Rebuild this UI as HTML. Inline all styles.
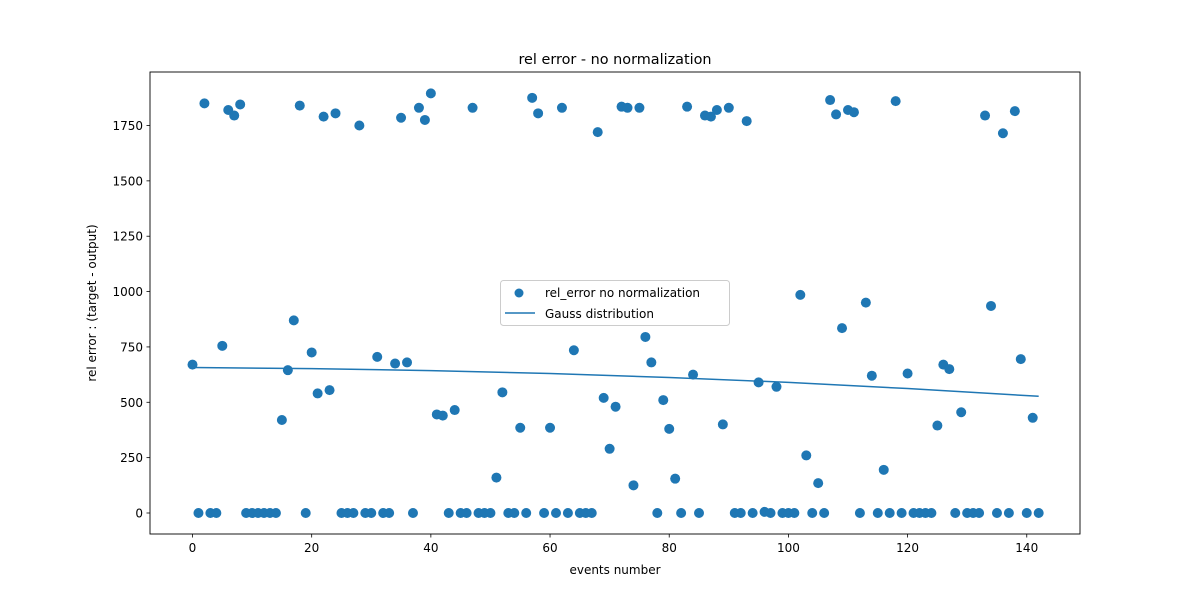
<!DOCTYPE html>
<html><head><meta charset="utf-8"><style>
body{margin:0;background:#fff;}
svg{display:block;font-family:"DejaVu Sans","Liberation Sans",sans-serif;}
</style></head><body>
<svg id="chart" width="1200" height="600">
<rect x="0" y="0" width="1200" height="600" fill="#fff"/>
<text x="615" y="64" font-size="14.4" text-anchor="middle">rel error - no normalization</text>
<g id="plot"></g>
<rect x="150" y="72" width="930" height="462" fill="none" stroke="#000" stroke-width="0.9"/>
<text x="615" y="574" font-size="12" text-anchor="middle">events number</text>
<text transform="translate(96,303) rotate(-90)" font-size="12" text-anchor="middle">rel error : (target - output)</text>
<g>
<rect x="500.5" y="280.5" width="229" height="45" rx="3" fill="#fff" fill-opacity="0.8" stroke="#ccc"/>
<circle cx="519" cy="293" r="4.5" fill="#1f77b4"/>
<text x="545" y="297" font-size="12">rel_error no normalization</text>
<line x1="505" y1="313" x2="535" y2="313" stroke="#1f77b4" stroke-width="1.5"/>
<text x="545" y="318" font-size="12">Gauss distribution</text>
</g>
</svg>
<script>
const values = [670,0,1850,0,0,755,1820,1795,1845,0,0,0,0,0,0,420,645,870,1840,0,725,540,1790,555,1805,0,0,0,1750,0,0,705,0,0,675,1785,680,0,1830,1775,1895,445,440,0,465,0,0,1830,0,0,0,160,545,0,0,385,0,1875,1805,0,385,0,1830,0,735,0,0,0,1720,520,290,480,1835,1830,125,1830,795,680,0,510,380,155,0,1835,625,0,1795,1790,1820,400,1830,0,0,1770,0,590,5,0,570,0,0,0,985,260,0,135,0,1865,1800,835,1820,1810,0,950,620,0,195,0,1860,0,630,0,0,0,0,395,670,650,0,455,0,0,0,1795,935,0,1715,0,1815,695,0,430,0];
const gaussX = [0,20,40,60,80,100,120,142];
const gaussY = [657,652,643,630,612,590,562,527];
const xTicks = [0,20,40,60,80,100,120,140];
const yTicks = [0,250,500,750,1000,1250,1500,1750];

const NS="http://www.w3.org/2000/svg";
const g=document.getElementById('plot');
const xs=v=>192.5+v*5.959;
const ys=v=>513-v*(387.5/1750);
function mk(tag,attrs){const e=document.createElementNS(NS,tag);for(const k in attrs)e.setAttribute(k,attrs[k]);g.appendChild(e);return e;}

xTicks.forEach(t=>{
  const l=mk('line',{x1:xs(t),x2:xs(t),y1:534,y2:537.5,stroke:'#000','stroke-width':0.8});
  
  
  const tx=mk('text',{x:xs(t),y:552,'font-size':12,'text-anchor':'middle'});
  tx.textContent=t;
  
  
});
yTicks.forEach(t=>{
  const l=mk('line',{x1:146.5,x2:150,y1:ys(t),y2:ys(t),stroke:'#000','stroke-width':0.8});
  
  
  const tx=mk('text',{x:143,y:ys(t)+4.5,'font-size':12,'text-anchor':'end'});
  tx.textContent=t;
  
  
});
values.forEach((v,i)=>{
  const c=mk('circle',{cx:xs(i),cy:ys(v),r:5,fill:'#1f77b4'});
  
  
});
const pts=gaussX.map((x,i)=>xs(x)+','+ys(gaussY[i])).join(' ');
const pl=mk('polyline',{points:pts,fill:'none',stroke:'#1f77b4','stroke-width':1.5});


</script>
</body></html>
